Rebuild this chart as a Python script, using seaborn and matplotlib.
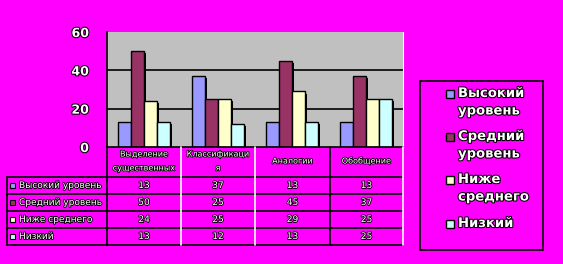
import matplotlib
matplotlib.use("Agg")
import matplotlib.pyplot as plt
import matplotlib.patheffects as pe
from matplotlib.lines import Line2D
from matplotlib.patches import Rectangle
import seaborn as sns
import pandas as pd

categories = ["Выделение\nсущественных", "Классификаци\nя", "Аналогии", "Обобщение"]
series = ["Высокий уровень", "Средний уровень", "Ниже среднего", "Низкий"]
legend_labels = ["Высокий\nуровень", "Средний\nуровень", "Ниже\nсреднего", "Низкий"]
vysokiy = [13, 37, 13, 13]
sredniy = [50, 25, 45, 37]
nizhe = [24, 25, 29, 25]
nizkiy = [13, 12, 13, 25]
values = [vysokiy, sredniy, nizhe, nizkiy]
colors = ["#9999FF", "#993366", "#FFFFCC", "#CCFFFF"]
yticks = [0, 20, 40, 60]

rows = []
for s, vals in zip(series, values):
    for c, v in zip(categories, vals):
        rows.append({"cat": c, "series": s, "value": v})
df = pd.DataFrame(rows)

sns.set_style("white")
plt.rcParams['font.family'] = ['DejaVu Sans']

W, H = 563, 264
fig = plt.figure(figsize=(W / 100, H / 100), dpi=100, facecolor="#FF00FF")

def fx(x):
    return x / W

def fy(y):
    return 1 - y / H

x0, x1, ytop, ybot = 107, 403, 32, 147
ax = fig.add_axes([fx(x0), fy(ybot), fx(x1) - fx(x0), fy(ytop) - fy(ybot)])
ax.set_facecolor("#C0C0C0")

sns.barplot(data=df, x="cat", y="value", hue="series", palette=colors,
            width=0.7, gap=0, edgecolor="black", linewidth=1.0, ax=ax,
            legend=False, saturation=1)
for p in ax.patches:
    p.set_path_effects([pe.SimplePatchShadow(offset=(1.5, -1.5), shadow_rgbFace="black", alpha=1), pe.Normal()])

ax.set_ylim(0, 60)
ax.set_xlim(-0.5, 3.5)
ax.set_yticks(yticks)
for y in [20, 40]:
    ax.axhline(y, color="black", lw=1.2, zorder=0.5)
ax.set_axisbelow(True)
ax.set_xlabel("")
ax.set_ylabel("")
ax.set_xticklabels([])
ax.tick_params(axis="x", length=0)
ax.tick_params(axis="y", length=5, width=1, color="black", direction="out", pad=8)
ax.spines["top"].set_visible(False)
ax.spines["right"].set_color("white")
ax.spines["left"].set_color("black")
ax.spines["bottom"].set_color("black")
ax.spines["left"].set_linewidth(1.2)
ax.spines["bottom"].set_linewidth(1.2)

txt_fx = [pe.Stroke(linewidth=1.5, foreground="black"), pe.Normal()]
for lab in ax.get_yticklabels():
    lab.set_fontsize(9)
    lab.set_fontweight("bold")
    lab.set_color("white")
    lab.set_path_effects(txt_fx)

# Data table
col_edges = [107, 181, 255, 330, 403]
row_lines = [177, 194, 211, 228, 245]
tleft = 7
small_fx = [pe.Stroke(linewidth=1.2, foreground="black"), pe.Normal()]
for y in row_lines:
    fig.add_artist(Line2D([fx(tleft), fx(403)], [fy(y), fy(y)], color="black", lw=1.2))
for i, x in enumerate(col_edges):
    col = "black" if i in (0, 3) else "white"
    fig.add_artist(Line2D([fx(x), fx(x)], [fy(147), fy(245)], color=col, lw=1.2))
fig.add_artist(Line2D([fx(tleft), fx(tleft)], [fy(177), fy(245)], color="black", lw=1.2))

for j, c in enumerate(categories):
    cx = (col_edges[j] + col_edges[j + 1]) / 2
    fig.text(fx(cx), fy(161), c, ha="center", va="center", fontsize=5.8,
             color="white", path_effects=small_fx, linespacing=1.7)

for i, (s, vals) in enumerate(zip(series, values)):
    cy = (row_lines[i] + row_lines[i + 1]) / 2
    fig.add_artist(Rectangle((fx(10), fy(cy + 2.5)), fx(5), 5 / H,
                             facecolor=colors[i], edgecolor="black", lw=0.8))
    fig.text(fx(19), fy(cy), s, ha="left", va="center", fontsize=6.5,
             color="white", path_effects=small_fx)
    for j, v in enumerate(vals):
        cx = (col_edges[j] + col_edges[j + 1]) / 2
        fig.text(fx(cx), fy(cy), str(v), ha="center", va="center", fontsize=6.5,
                 color="white", path_effects=small_fx)

# Legend
fig.add_artist(Rectangle((fx(420), fy(250)), fx(543) - fx(420), (250 - 81) / H,
                         facecolor="none", edgecolor="black", lw=1.2))
leg_y = [94, 137, 180, 224]
for i, lab in enumerate(legend_labels):
    fig.add_artist(Rectangle((fx(446), fy(leg_y[i] + 4)), fx(8), 8 / H,
                             facecolor=colors[i], edgecolor="black", lw=1.0))
    fig.text(fx(458), fy(leg_y[i] - 7), lab, ha="left", va="top", fontsize=9.5,
             fontweight="bold", color="white", path_effects=txt_fx, linespacing=1.45)

fig.savefig("out.png", dpi=100, facecolor="#FF00FF")
